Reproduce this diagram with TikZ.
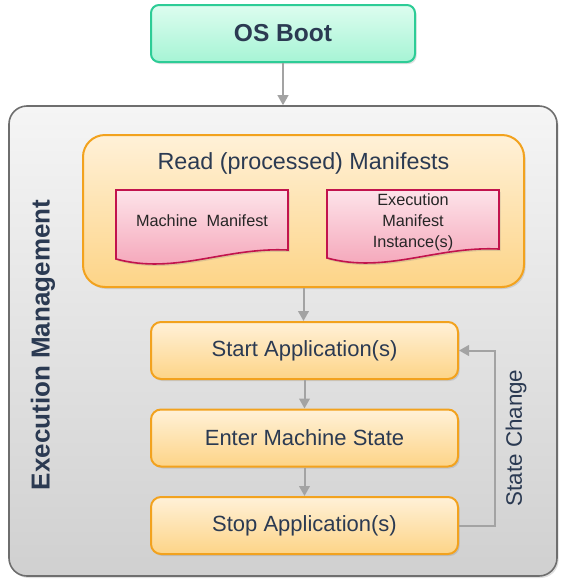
\documentclass[tikz,border=0pt]{standalone}
\usepackage{fontspec}
\setmainfont{Liberation Sans}
\usetikzlibrary{arrows.meta,shadows}

\definecolor{navy}{HTML}{2B3A52}
\definecolor{bootline}{HTML}{2DCC96}
\definecolor{boottop}{HTML}{DDFDEF}
\definecolor{bootbot}{HTML}{A6F4D5}
\definecolor{emline}{HTML}{6E6E6E}
\definecolor{emtop}{HTML}{F5F5F5}
\definecolor{embot}{HTML}{D0D0D0}
\definecolor{boxline}{HTML}{F2A21E}
\definecolor{boxtop}{HTML}{FFF1D8}
\definecolor{boxbot}{HTML}{FDD487}
\definecolor{docline}{HTML}{C2134D}
\definecolor{doctop}{HTML}{FDE3E9}
\definecolor{docbot}{HTML}{F4A0B5}
\definecolor{flecha}{HTML}{A3A3A3}

\tikzset{
  sombra/.style={drop shadow={opacity=0.25, shadow xshift=1.2pt, shadow yshift=-1.5pt}},
  paso/.style={draw=boxline, line width=1.5pt, rounded corners=7.5pt, top color=boxtop,
    bottom color=boxbot, minimum width=230.25pt, minimum height=42.75pt,
    font=\fontsize{16.5}{20}\selectfont, text=navy, sombra},
  doc/.style={draw=docline, line width=1.2pt, top color=doctop, bottom color=docbot, sombra},
  doctext/.style={font=\fontsize{12.2}{15.75}\selectfont, text=black!85, align=center},
  flow/.style={draw=flecha, line width=1.5pt, -{Triangle[width=8pt,length=7.5pt]}},
}

\begin{document}
\begin{tikzpicture}[x=0.75pt, y=-0.75pt]
\useasboundingbox (0,0) rectangle (566,586);

% Arranque
\node[draw=bootline, line width=1.5pt, rounded corners=6pt, top color=boottop, bottom color=bootbot,
  minimum width=198pt, minimum height=42.75pt, font=\fontsize{18.4}{22}\selectfont\bfseries,
  text=navy, sombra] (boot) at (283,33.5) {OS Boot};

% Caja de gestion
\node[draw=emline, line width=1.2pt, rounded corners=13.5pt, top color=emtop, bottom color=embot,
  minimum width=411pt, minimum height=352.5pt, sombra] (em) at (283,341) {};
\node[rotate=90, font=\fontsize{19.5}{23}\selectfont\bfseries, text=navy] (emlabel) at (43,345)
  {Execution Management};

% Manifiestos
\node[draw=boxline, line width=1.5pt, rounded corners=16.5pt, top color=boxtop, bottom color=boxbot,
  minimum width=330.75pt, minimum height=114pt, sombra] (rm) at (303.5,211) {};
\node[font=\fontsize{17.5}{21}\selectfont, text=navy] (rmlabel) at (303.5,163)
  {Read (processed) Manifests};

\draw[doc] (116,190) -- (288,190) -- (288,250)
  .. controls (225,247) and (175,275) .. (116,259) -- cycle;
\node[doctext] (mm) at (202,221) {Machine\ \ Manifest};

\draw[doc] (327,190) -- (499,190) -- (499,249)
  .. controls (436,246) and (386,274) .. (327,258) -- cycle;
\node[doctext] (emi) at (413,222) {Execution\\Manifest\\Instance(s)};

% Pasos
\node[paso] (start) at (304.5,350.5) {Start Application(s)};
\node[paso] (enter) at (304.5,438) {Enter Machine State};
\node[paso] (stop) at (304.5,525.5) {Stop Application(s)};

% Flechas
\draw[flow] (boot.south) -- (em.north);
\draw[flow] (rm.south) -- (rm.south |- start.north);
\draw[flow] (start) -- (enter);
\draw[flow] (enter) -- (stop);
\draw[flow] (stop.east) -- ++(36,0) |- (start.east);
\node[rotate=90, font=\fontsize{16.8}{20}\selectfont, text=navy] (sc) at (516,438) {State Change};
\end{tikzpicture}
\end{document}
